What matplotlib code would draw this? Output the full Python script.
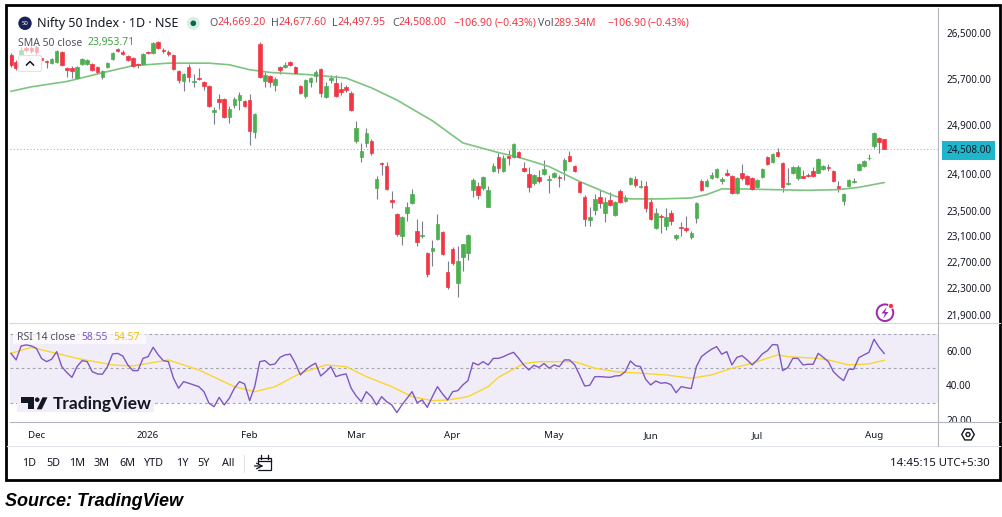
import numpy as np
import matplotlib.pyplot as plt
from matplotlib.patches import Rectangle, Circle, Polygon, RegularPolygon, FancyBboxPatch

plt.rcParams['font.family'] = ['Noto Sans', 'DejaVu Sans']

GREEN = '#4caf50'
RED = '#f23645'
WICK = '#7b7e88'
TEXT = '#131722'
GRAY = '#50535e'
SMA_COL = '#7cc47f'
RSI_COL = '#7e57c2'
RSI_MA_COL = '#f9d62e'
CYAN = '#1fb6cc'

# daily candles, Nifty 50
opens = [26117, 25995, 26100, 26240, 26240, 26257, 26065, 26012, 25977, 25995,
         26170, 25890, 25890, 25715, 25960, 25960, 25960, 25907, 25732, 25907,
         26047, 26222, 26170, 26100, 26065, 25950, 25960, 26170, 26152, 26345,
         26205, 26170, 26117, 25837, 25662, 25907, 25645, 25705, 25645, 25575,
         25128, 25347, 25347, 25044, 25246, 25330, 25313, 25330, 24792, 26310,
         25662, 25750, 25592, 25907, 25907, 25995, 25907, 25575, 25400, 25645,
         25750, 25872, 25382, 25680, 25627, 25522, 25557, 25452, 24641, 24372,
         24608, 24641, 23871, 24274, 24225, 23678, 23453, 23109, 23469, 23630,
         23186, 23105, 22831, 22862, 23062, 23170, 22539, 22893, 22385, 22770,
         22831, 23839, 23903, 23871, 23565, 24145, 24372, 24145, 24389, 24372,
         24456, 24193, 24097, 23952, 24048, 24097, 23995, 24048, 24048, 24161,
         24389, 24225, 23968, 23726, 23356, 23517, 23726, 23469, 23678, 23437,
         23823, 23662, 23936, 24016, 23887, 23903, 23646, 23232, 23420, 23263,
         23469, 23078, 23247, 23232, 23093, 23388, 23984, 23903, 24032, 24048,
         23984, 24113, 24064, 23791, 24113, 24064, 24032, 23887, 24048, 24372,
         24290, 24456, 24274, 23936, 24113, 24032, 24064, 24080, 24145, 24113,
         24177, 24209, 24145, 23903, 23662, 23903, 23968, 24161, 24225, 24350,
         24557, 24692, 24669.20]
highs = [26152, 26030, 26257, 26275, 26275, 26292, 26100, 26030, 26065, 26205,
         26187, 25907, 25925, 25925, 26065, 26047, 25977, 25925, 25855, 25995,
         26170, 26240, 26205, 26117, 26082, 25977, 26152, 26187, 26345, 26362,
         26240, 26205, 26135, 25855, 25802, 25960, 25785, 25890, 25662, 25592,
         25212, 25435, 25365, 25229, 25382, 25470, 25330, 25435, 25112, 26345,
         25820, 25767, 25732, 25925, 25995, 26012, 25925, 25592, 25697, 25732,
         25855, 25890, 25645, 25767, 25767, 25645, 25592, 25487, 24977, 24608,
         24860, 24675, 24064, 24290, 24290, 23823, 23469, 23420, 23646, 23855,
         23372, 23340, 22847, 23047, 23453, 23186, 22708, 22924, 22939, 22985,
         23139, 24032, 23968, 24064, 23903, 24274, 24440, 24406, 24490, 24608,
         24473, 24290, 24209, 24097, 24161, 24322, 24080, 24129, 24080, 24356,
         24473, 24242, 23984, 23758, 23565, 23775, 23839, 23726, 23807, 23662,
         23855, 23758, 24048, 24064, 24000, 23984, 23710, 23549, 23453, 23549,
         23517, 23139, 23324, 23420, 23186, 23646, 24016, 24016, 24129, 24193,
         24048, 24177, 24080, 24048, 24258, 24080, 24048, 24016, 24193, 24389,
         24440, 24524, 24290, 24193, 24225, 24242, 24161, 24113, 24209, 24356,
         24242, 24258, 24161, 23984, 23791, 24016, 24032, 24274, 24322, 24423,
         24780, 24708, 24677.60]
lows = [25907, 25855, 26065, 26170, 26152, 26117, 25995, 25890, 25960, 25977,
        25925, 25732, 25715, 25697, 25942, 25942, 25837, 25785, 25697, 25890,
        26030, 26170, 26117, 26012, 25907, 25890, 25942, 26135, 26135, 26222,
        26152, 26100, 25855, 25627, 25487, 25645, 25557, 25680, 25505, 25212,
        24927, 25179, 25028, 24944, 25196, 25162, 25212, 24574, 24692, 25715,
        25557, 25557, 25487, 25785, 25890, 25925, 25785, 25435, 25365, 25557,
        25645, 25382, 25365, 25627, 25382, 25417, 25470, 25145, 24608, 24290,
        24540, 24406, 23694, 24080, 23839, 23549, 23109, 22955, 23340, 23614,
        22939, 23078, 22477, 22631, 23047, 22801, 22292, 22647, 22169, 22554,
        22724, 23726, 23694, 23839, 23560, 24129, 24113, 24129, 24242, 24356,
        24356, 24129, 23807, 23919, 23952, 24080, 23791, 24032, 23887, 24000,
        24290, 24129, 23791, 23263, 23263, 23437, 23549, 23324, 23581, 23420,
        23630, 23646, 23919, 23887, 23871, 23485, 23356, 23216, 23155, 23201,
        23278, 23047, 23109, 23170, 23062, 23309, 23823, 23887, 24016, 24032,
        23936, 24064, 23775, 23775, 24000, 23919, 23839, 23871, 24032, 24242,
        24274, 24372, 23807, 23919, 24097, 24000, 24025, 24048, 24048, 24105,
        24161, 24145, 23968, 23807, 23598, 23887, 23952, 24145, 24209, 24322,
        24524, 24440, 24497.95]
closes = [25942, 25890, 26205, 26205, 26187, 26170, 26030, 25995, 26047, 26187,
          25942, 25855, 25837, 25907, 26047, 26030, 25855, 25820, 25837, 25977,
          26152, 26187, 26135, 26030, 25925, 25942, 26135, 26152, 26327, 26240,
          26187, 26135, 25872, 25680, 25785, 25732, 25662, 25697, 25575, 25229,
          25162, 25296, 25044, 25179, 25347, 25417, 25229, 24809, 25095, 25732,
          25767, 25645, 25697, 25855, 25942, 25942, 25802, 25452, 25680, 25715,
          25820, 25452, 25575, 25715, 25400, 25470, 25505, 25162, 24860, 24473,
          24776, 24440, 24016, 24258, 23855, 23646, 23139, 23404, 23565, 23775,
          23001, 23112, 22508, 22908, 23293, 22816, 22323, 22677, 22708, 22970,
          23124, 24000, 23758, 24048, 23839, 24225, 24193, 24356, 24356, 24591,
          24372, 24145, 23887, 24080, 23984, 24177, 24005, 24113, 24032, 24322,
          24306, 24145, 23807, 23372, 23404, 23694, 23630, 23646, 23598, 23646,
          23646, 23710, 24032, 23919, 23903, 23549, 23372, 23469, 23404, 23404,
          23340, 23124, 23232, 23201, 23155, 23630, 23839, 23984, 24080, 24177,
          24016, 24080, 23791, 24032, 24032, 23936, 23855, 24000, 24177, 24258,
          24423, 24389, 23887, 23952, 24209, 24209, 24035, 24064, 24064, 24339,
          24225, 24193, 23984, 23871, 23775, 24000, 23984, 24258, 24306, 24362,
          24776, 24614.90, 24508.00]
volume_text = "289.34M"

# SMA 50 (candle index, value)
sma_idx = [0, 4, 11, 18, 24, 31, 39, 43, 47, 51, 59, 66, 71, 76, 83, 89, 96,
           100, 106, 112, 119, 122, 128, 134, 137, 140, 144, 150, 157, 163, 167, 172]
sma_val = [25480, 25557, 25650, 25802, 25925, 25970, 25970, 25942, 25855, 25808,
           25767, 25710, 25540, 25330, 24977, 24605, 24445, 24367, 24214, 23971,
           23731, 23690, 23690, 23705, 23758, 23850, 23850, 23839, 23828, 23839,
           23876, 23953.71]

# RSI 14, one value per candle
rsi = [58.6, 54.8, 62.9, 63.5, 62.9, 61.5, 55.7, 53.8, 55.2, 59.6,
       50.9, 47.5, 44.7, 50.9, 54.4, 53.8, 48.0, 46.7, 46.5, 50.9,
       58.3, 58.6, 57.1, 51.9, 48.6, 48.6, 55.7, 56.7, 62.1, 57.7,
       54.4, 53.8, 44.2, 38.4, 42.2, 41.3, 40.3, 39.3, 36.4, 29.7,
       27.7, 33.1, 28.7, 32.6, 38.4, 42.2, 40.9, 31.2, 39.3, 53.8,
       54.4, 51.9, 52.5, 56.3, 57.7, 58.1, 52.9, 46.1, 49.0, 51.3,
       52.9, 45.5, 48.0, 50.9, 45.1, 46.1, 46.7, 38.4, 33.9, 30.6,
       36.4, 33.5, 28.7, 33.5, 30.6, 28.7, 24.3, 28.7, 32.6, 36.4,
       30.0, 31.6, 27.3, 33.5, 39.3, 35.1, 31.6, 36.4, 37.0, 40.3,
       42.8, 53.2, 51.9, 53.8, 51.9, 55.7, 55.7, 56.7, 58.1, 59.2,
       55.7, 51.9, 49.0, 51.7, 50.5, 52.7, 50.0, 51.9, 50.9, 54.8,
       54.8, 52.1, 46.1, 39.7, 40.1, 45.1, 45.1, 44.9, 44.7, 45.5,
       45.7, 48.0, 54.2, 51.5, 50.9, 43.6, 40.3, 42.6, 41.3, 41.6,
       40.5, 35.8, 39.3, 38.7, 38.2, 50.9, 56.7, 59.0, 61.0, 62.5,
       58.1, 59.6, 51.9, 56.3, 57.3, 54.8, 51.9, 54.8, 58.3, 60.2,
       63.7, 63.5, 48.6, 50.3, 55.7, 55.7, 51.9, 52.3, 52.3, 58.6,
       56.3, 53.8, 48.0, 45.1, 42.8, 49.4, 49.4, 56.1, 57.7, 59.2,
       66.8, 62.1, 58.55]

# RSI moving average (candle index, value)
rsi_ma_idx = [0, 4, 13, 20, 24, 29, 31, 37, 44, 48, 52, 57, 62, 66, 70, 75, 79,
              83, 86, 90, 94, 96, 101, 104, 111, 115, 119, 124, 129, 134, 138,
              142, 146, 151, 153, 159, 161, 165, 169, 172]
rsi_ma_val = [58.6, 62.1, 55.7, 51.9, 51.3, 53.8, 54.8, 49.0, 39.3, 36.4, 39.3,
              47.1, 51.9, 50.9, 45.1, 39.3, 33.5, 31.2, 31.6, 33.5, 39.3, 44.7,
              52.7, 53.8, 53.8, 50.0, 48.0, 47.1, 46.1, 44.2, 46.1, 50.0, 52.9,
              57.7, 56.7, 55.7, 54.8, 51.9, 52.5, 54.57]

month_idx = [5, 27, 47, 68, 87, 107, 126, 147, 170]
month_lbl = ["Dec", "2026", "Feb", "Mar", "Apr", "May", "Jun", "Jul", "Aug"]
price_ticks = [26500, 25700, 24900, 24100, 23500, 23100, 22700, 22300, 21900]
rsi_ticks = [60, 40, 20]
ranges = ["1D", "5D", "1M", "3M", "6M", "YTD", "1Y", "5Y", "All"]

W, H = 1003, 517
fig = plt.figure(figsize=(W / 100, H / 100), dpi=100)


def box(x0, y0, x1, y1):
    return [x0 / W, 1 - y1 / H, (x1 - x0) / W, (y1 - y0) / H]


XLIM = (-0.2, 182.6)
PLIM = (21781, 26958)
RLIM = (19.4, 76.2)

# price pane
ax = fig.add_axes(box(10, 8, 938, 323))
ax.set_yscale('log')
ax.set_xlim(*XLIM)
ax.set_ylim(*PLIM)
ax.axis('off')

o = np.array(opens)
c = np.array(closes)
idx = np.arange(len(o))
col = np.where(c >= o, GREEN, RED)
ax.vlines(idx, lows, highs, color=WICK, lw=0.8, zorder=2)
ax.bar(idx, np.abs(c - o), bottom=np.minimum(o, c), width=0.7, color=col,
       edgecolor=col, linewidth=0.5, zorder=3)
ax.plot(sma_idx, sma_val, color=SMA_COL, lw=1.2, zorder=2.5)
ax.axhline(closes[-1], color='#6fd0de', lw=0.8, ls=(0, (1, 2)), zorder=1)

# price scale
axp = fig.add_axes(box(938, 8, 1000, 323))
axp.set_yscale('log')
axp.set_xlim(0, 1)
axp.set_ylim(*PLIM)
axp.axis('off')
for v in price_ticks:
    axp.text(0.13, v, f"{v:,.2f}", va='center_baseline', ha='left', fontsize=7.1, color=TEXT)
axp.text(0.13, closes[-1], f"{closes[-1]:,.2f}", va='center_baseline', ha='left',
         fontsize=7.1, color=TEXT,
         bbox=dict(boxstyle='square,pad=0.4', fc=CYAN, ec='none'))

# RSI pane
axr = fig.add_axes(box(10, 323, 938, 421))
axr.set_xlim(*XLIM)
axr.set_ylim(*RLIM)
for s in axr.spines.values():
    s.set_visible(False)
axr.axhspan(30, 70, color=RSI_COL, alpha=0.1, lw=0)
for lvl in (70, 50, 30):
    axr.axhline(lvl, color='#a3a6af', lw=0.8, ls=(0, (2.5, 2.5)))
axr.plot(idx, rsi, color=RSI_COL, lw=1.0, zorder=3)
axr.plot(rsi_ma_idx, rsi_ma_val, color=RSI_MA_COL, lw=1.0, zorder=2.5)
axr.set_yticks([])
axr.set_xticks(month_idx, month_lbl)
axr.tick_params(axis='x', length=0, pad=7, labelsize=7, labelcolor=TEXT)

axrl = fig.add_axes(box(938, 323, 1000, 421))
axrl.set_xlim(0, 1)
axrl.set_ylim(*RLIM)
axrl.axis('off')
for v in rsi_ticks:
    axrl.text(0.13, v, f"{v:.2f}", va='center_baseline', ha='left', fontsize=7.1, color=TEXT)

# overlay in pixel units for frame, legends and icons
ov = fig.add_axes([0, 0, 1, 1])
ov.set_zorder(10)
ov.set_xlim(0, W)
ov.set_ylim(H, 0)
ov.axis('off')
ov.patch.set_visible(False)
renderer = fig.canvas.get_renderer()


def chain(x, y, parts, size, **kw):
    for s, color in parts:
        t = ov.text(x, y, s, color=color, fontsize=size, va='center', ha='left', **kw)
        x += t.get_window_extent(renderer).width
    return x


# the time-axis strip hides the lower half of the last RSI label
ov.add_patch(Rectangle((939, 421.5), 60, 24, fc='white', ec='none'))

# separators
ov.plot([10, 1000], [323, 323], color='#d6d8de', lw=0.8)
ov.plot([10, 1000], [421.5, 421.5], color='#b2b5be', lw=0.8)
ov.plot([7, 1000], [446, 446], color='#e0e3eb', lw=0.8)
ov.plot([938, 938], [8, 446], color='#b2b5be', lw=0.8)
ov.plot([244.3, 244.3], [455, 472], color='#e0e3eb', lw=0.8)
ov.add_patch(Rectangle((6.5, 5), 993.5, 475, fill=False, ec='black', lw=2))

# header
ov.add_patch(Circle((25, 23.3), 6.7, fc='#1c2256', ec='none'))
ov.text(25, 23.5, "50", color='white', fontsize=4.3, fontweight='bold',
        ha='center', va='center')
ov.text(36.7, 23, "Nifty 50 Index · 1D · NSE", fontsize=9, color=TEXT,
        va='center', ha='left')
ov.add_patch(Circle((193.3, 23.3), 6.5, fc='#d8efe4', ec='none'))
ov.add_patch(Circle((193.3, 23.3), 2.8, fc='#00694e', ec='none'))

chg = closes[-1] - closes[-2]
chg_txt = f"\u2212{abs(chg):.2f}" if chg < 0 else f"+{chg:.2f}"
pct = chg / closes[-2] * 100
pct_txt = f"(\u2212{abs(pct):.2f}%)" if pct < 0 else f"(+{pct:.2f}%)"
hy = 23
chain(209.3, hy, [("O", GRAY), (f"{opens[-1]:,.2f}", RED)], 7.6)
chain(270.7, hy, [("H", GRAY), (f"{highs[-1]:,.2f}", RED)], 7.6)
chain(332, hy, [("L", GRAY), (f"{lows[-1]:,.2f}", RED)], 7.6)
chain(392, hy, [("C", GRAY), (f"{closes[-1]:,.2f}", RED)], 7.6)
chain(453, hy, [(chg_txt, RED)], 7.6)
chain(495, hy, [(pct_txt, RED)], 7.6)
chain(538, hy, [("Vol", GRAY), (volume_text, RED)], 7.6)
chain(607, hy, [(chg_txt, RED)], 7.6)
chain(648, hy, [(pct_txt, RED)], 7.6)

# SMA legend + collapse button
ov.add_patch(Rectangle((17, 36), 24, 38, fc='white', ec='none', alpha=0.6))
chain(18.3, 43, [("SMA 50 close", GRAY), ("  ", GRAY), (f"{sma_val[-1]:,.2f}", '#43a047')], 7.5)
ov.add_patch(FancyBboxPatch((18.5, 55.5), 23, 16, boxstyle='round,pad=0,rounding_size=2',
                            fc='white', ec='#e0e3eb', lw=0.8))
ov.plot([26.5, 30, 33.5], [65, 61.5, 65], color=TEXT, lw=1.1)

# lightning icon
ov.add_patch(Circle((885, 312.7), 8.3, fc='white', ec='#9c27b0', lw=1.4))
bolt = [(886.8, 307), (881.5, 313.5), (885, 313.5), (883.2, 318.5), (888.5, 312), (885, 312)]
ov.add_patch(Polygon(bolt, closed=True, fc='#9c27b0', ec='none'))
ov.add_patch(Circle((891, 306), 2.6, fc=RED, ec='white', lw=0.6))

# RSI legend
ov.add_patch(Rectangle((13, 331), 133, 13, fc='white', ec='none', alpha=0.65))
chain(17.3, 337.5, [("RSI 14 close", GRAY), ("  ", GRAY), (f"{rsi[-1]:.2f}", RSI_COL),
                    ("  ", GRAY), (f"{rsi_ma_val[-1]:.2f}", '#f2c200')], 7.5)

# TradingView watermark
ov.add_patch(Rectangle((17, 396), 137, 16, fc='#f2eef9', ec='none'))
ov.add_patch(Polygon([(21.3, 397.3), (34, 397.3), (34, 409.3), (28, 409.3),
                      (28, 402.5), (21.3, 402.5)], closed=True, fc=TEXT, ec='none'))
ov.add_patch(Circle((37.2, 399.7), 2.3, fc=TEXT, ec='none'))
ov.add_patch(Polygon([(36.8, 409.3), (42.5, 397.3), (47.5, 397.3), (41.8, 409.3)],
                     closed=True, fc=TEXT, ec='none'))
ov.text(52.5, 403.5, "TradingView", fontsize=12.5, fontweight='bold', color=TEXT,
        family=['Lato', 'DejaVu Sans'], va='center', ha='left')

# gear icon
ov.add_patch(RegularPolygon((968, 434.5), numVertices=6, radius=6.3,
                            orientation=np.pi / 6, fill=False, ec=TEXT, lw=1.0))
ov.add_patch(Circle((968, 434.5), 2.0, fill=False, ec=TEXT, lw=1.0))

# bottom toolbar
range_x = [29, 53, 77, 102, 127, 154, 182, 204, 228]
for rx, lab in zip(range_x, ranges):
    ov.text(rx, 463.5, lab, fontsize=7.8, color=TEXT, ha='center', va='center')
ov.add_patch(Rectangle((258, 457.5), 13, 12, fill=False, ec=TEXT, lw=0.9))
ov.plot([258, 271], [461, 461], color=TEXT, lw=0.9)
ov.plot([261, 261], [455, 459], color=TEXT, lw=0.9)
ov.plot([268, 268], [455, 459], color=TEXT, lw=0.9)
ov.add_patch(Rectangle((254, 463.5), 5, 6, fc='white', ec='none'))
ov.annotate("", xy=(263.5, 466), xytext=(254.5, 466),
            arrowprops=dict(arrowstyle='->', color=TEXT, lw=0.9, shrinkA=0, shrinkB=0))
ov.text(990, 463.5, "14:45:15 UTC+5:30", fontsize=8.2, color=TEXT, ha='right', va='center')

# caption under the frame
ov.text(5, 502, "Source: TradingView", fontsize=13, fontweight='bold', fontstyle='italic',
        family=['Liberation Sans', 'DejaVu Sans'], color='black', ha='left', va='center')

fig.savefig("out.png", dpi=100)
